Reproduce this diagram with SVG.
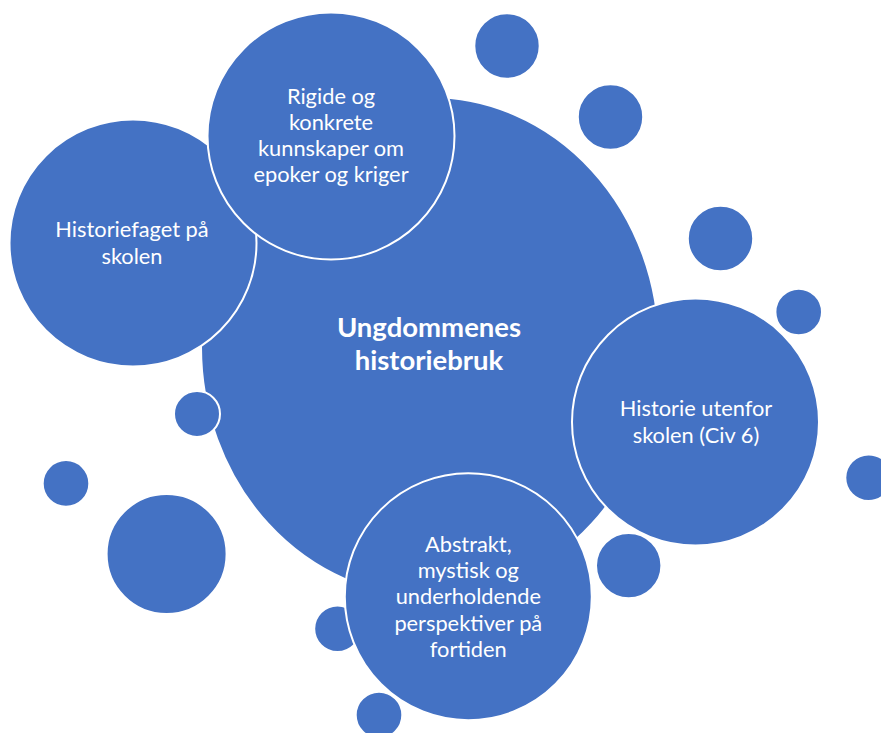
<svg xmlns="http://www.w3.org/2000/svg" width="881" height="733" viewBox="0 0 881 733">
<style>
.b{fill:#4472C4;stroke:#FFFFFF;stroke-width:2}
.t{font-family:Lato,"Liberation Sans",sans-serif;font-size:21.8px;fill:#FFFFFF;text-anchor:middle}
.tb{font-family:Lato,"Liberation Sans",sans-serif;font-size:27.5px;font-weight:bold;fill:#FFFFFF;text-anchor:middle}
</style>
<rect width="881" height="733" fill="#FFFFFF"/>
<g id="main">
<ellipse class="b" cx="430" cy="347" rx="229" ry="250"/>
<text class="tb" x="429" y="337">Ungdommenes</text>
<text class="tb" x="429" y="370">historiebruk</text>
</g>
<g id="historiefaget">
<circle class="b" cx="133" cy="243" r="123.5"/>
<text class="t" x="132" y="237">Historiefaget på</text>
<text class="t" x="132" y="264">skolen</text>
</g>
<g id="rigide">
<circle class="b" cx="331" cy="136" r="123.5"/>
<text class="t" x="331" y="104">Rigide og</text>
<text class="t" x="331" y="130">konkrete</text>
<text class="t" x="331" y="156">kunnskaper om</text>
<text class="t" x="331" y="182">epoker og kriger</text>
</g>
<g id="bubbles">
<circle class="b" cx="197" cy="414" r="23"/>
<circle class="b" cx="507" cy="46" r="32.7"/>
<circle class="b" cx="610.5" cy="117" r="32.7"/>
<circle class="b" cx="720.5" cy="238.5" r="32.7"/>
<circle class="b" cx="798.7" cy="312" r="23.3"/>
<circle class="b" cx="868.6" cy="477.7" r="23.3"/>
<circle class="b" cx="66" cy="483.4" r="23.3"/>
<circle class="b" cx="166.6" cy="554" r="60"/>
<circle class="b" cx="628.7" cy="565.6" r="32.7"/>
<circle class="b" cx="337.5" cy="628.7" r="23.3"/>
<circle class="b" cx="379" cy="715" r="23.3"/>
</g>
<g id="historie-utenfor">
<circle class="b" cx="695.5" cy="422" r="123.5"/>
<text class="t" x="696" y="416">Historie utenfor</text>
<text class="t" x="696" y="443">skolen (Civ 6)</text>
</g>
<g id="abstrakt">
<circle class="b" cx="468.3" cy="596.7" r="123.5"/>
<text class="t" x="468.3" y="552">Abstrakt,</text>
<text class="t" x="468.3" y="578">mystisk og</text>
<text class="t" x="468.3" y="604">underholdende</text>
<text class="t" x="468.3" y="631">perspektiver på</text>
<text class="t" x="468.3" y="657">fortiden</text>
</g>
<g id="connectors"/>
</svg>
